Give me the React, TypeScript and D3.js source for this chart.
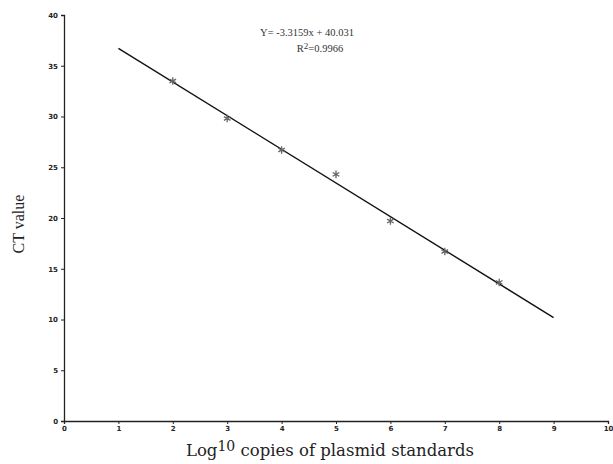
import React, { useEffect, useRef } from 'react';
import * as d3 from 'd3';

// data
const xValues = [2, 3, 4, 5, 6, 7, 8];
const ctValues = [33.5, 29.8, 26.7, 24.3, 19.7, 16.7, 13.65];
const slope = -3.3159;
const intercept = 40.031;
const fitRange = [1, 9];
const xTicks = [0, 1, 2, 3, 4, 5, 6, 7, 8, 9, 10];
const yTicks = [0, 5, 10, 15, 20, 25, 30, 35, 40];

const App = () => {
  const svgRef = useRef<SVGSVGElement>(null);

  useEffect(() => {
    if (!svgRef.current) return;
    const svg = d3.select(svgRef.current);
    svg.selectAll('*').remove();

    const x = d3.scaleLinear().domain([0, 10]).range([64, 608]);
    const y = d3.scaleLinear().domain([0, 40]).range([421, 15]);

    // x axis
    const xAxis = svg.append('g')
      .attr('transform', `translate(0,${y(0)})`)
      .call(d3.axisBottom(x).tickValues(xTicks).tickSize(3).tickPadding(2));

    // y axis
    const yAxis = svg.append('g')
      .attr('transform', `translate(${x(0)},0)`)
      .call(d3.axisLeft(y).tickValues(yTicks).tickSize(3).tickPadding(3));

    [xAxis, yAxis].forEach(g => {
      g.select('.domain').attr('stroke', '#222').attr('stroke-width', 1.3);
      g.selectAll('.tick line').attr('stroke', '#222');
      g.selectAll('.tick text')
        .attr('font-family', 'DejaVu Sans, sans-serif')
        .attr('font-size', '7px')
        .attr('font-weight', 'bold')
        .attr('fill', '#222');
    });

    // fitted line
    const line = d3.line<number>()
      .x(d => x(d))
      .y(d => y(slope * d + intercept));
    svg.append('path')
      .datum(fitRange)
      .attr('fill', 'none')
      .attr('stroke', '#111')
      .attr('stroke-width', 1.4)
      .attr('d', line);

    // points
    const sym = d3.symbol().type(d3.symbolAsterisk).size(40);
    svg.append('g')
      .selectAll('path')
      .data(xValues)
      .join('path')
      .attr('transform', (d, i) => `translate(${x(d)},${y(ctValues[i])})`)
      .attr('d', sym)
      .attr('fill', 'none')
      .attr('stroke', '#666')
      .attr('stroke-width', 1.3);

    // equation
    svg.append('text')
      .attr('x', 307).attr('y', 36)
      .attr('text-anchor', 'middle')
      .attr('font-family', 'Liberation Serif, serif')
      .attr('font-size', '10.5px')
      .attr('fill', '#333')
      .text(`Y= ${slope}x + ${intercept}`);

    const r2 = svg.append('text')
      .attr('x', 320).attr('y', 52)
      .attr('text-anchor', 'middle')
      .attr('font-family', 'Liberation Serif, serif')
      .attr('font-size', '10.5px')
      .attr('fill', '#333');
    r2.append('tspan').text('R');
    r2.append('tspan').attr('dy', -3).attr('font-size', '9px').text('2');
    r2.append('tspan').attr('dy', 3).text('=0.9966');

    // axis titles
    svg.append('text')
      .attr('transform', 'translate(24,224) rotate(-90)')
      .attr('text-anchor', 'middle')
      .attr('font-family', 'Liberation Serif, serif')
      .attr('font-size', '16px')
      .attr('fill', '#222')
      .text('CT value');

    const xt = svg.append('text')
      .attr('x', 330).attr('y', 456)
      .attr('text-anchor', 'middle')
      .attr('font-family', 'DejaVu Serif, serif')
      .attr('font-size', '16.5px')
      .attr('fill', '#222');
    xt.append('tspan').text('Log');
    xt.append('tspan').attr('dy', -5).attr('font-size', '14px').text('10');
    xt.append('tspan').attr('dy', 5).text(' copies of plasmid standards');
  }, []);

  return (
    <svg
      ref={svgRef}
      width={613}
      height={464}
      style={{ position: 'absolute', left: 0, top: 0, background: '#fff' }}
    />
  );
};

export default App;
